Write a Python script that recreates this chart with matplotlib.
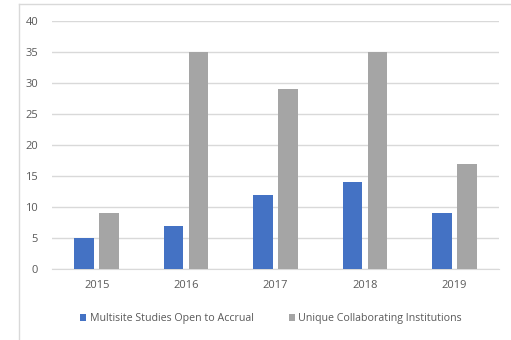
import matplotlib.pyplot as plt
import numpy as np
from matplotlib import lines

years = ['2015', '2016', '2017', '2018', '2019']
multisite = [5, 7, 12, 14, 9]
institutions = [9, 35, 29, 35, 17]

plt.rcParams['font.family'] = ['Open Sans', 'DejaVu Sans']

fig = plt.figure(figsize=(5.11, 3.40), dpi=100)
ax = fig.add_axes([52 / 511, 1 - 269 / 340, 447 / 511, 248 / 340])

x = np.arange(len(years))
w = 0.22
ax.bar(x - 0.14, multisite, w, color='#4472C4', label='Multisite Studies Open to Accrual', zorder=3)
ax.bar(x + 0.14, institutions, w, color='#A5A5A5', label='Unique Collaborating Institutions', zorder=3)

ax.set_xlim(-0.5, len(years) - 0.5)
ax.set_ylim(0, 40)
ax.set_yticks(range(0, 41, 5))
ax.set_xticks(x)
ax.set_xticklabels(years)
ax.yaxis.grid(True, color='#D9D9D9', lw=1, zorder=0)
for s in ['top', 'right', 'left']:
    ax.spines[s].set_visible(False)
ax.spines['bottom'].set_color('#D9D9D9')
ax.tick_params(length=0, labelsize=8, colors='#595959', pad=8)
ax.tick_params(axis='y', pad=10)

ax.legend(loc='center', bbox_to_anchor=(271 / 511, 1 - 319 / 340), bbox_transform=fig.transFigure,
          ncol=2, frameon=False, fontsize=7.7, handlelength=0.6, handleheight=0.6,
          handletextpad=0.3, columnspacing=3.3, labelcolor='#595959')

# outer chart frame
fig.add_artist(lines.Line2D([18.5 / 511, 18.5 / 511], [0, 1 - 3.5 / 340], color='#D9D9D9', lw=1))
fig.add_artist(lines.Line2D([18.5 / 511, 1], [1 - 3.5 / 340, 1 - 3.5 / 340], color='#D9D9D9', lw=1))

fig.savefig('out.png', dpi=100)
